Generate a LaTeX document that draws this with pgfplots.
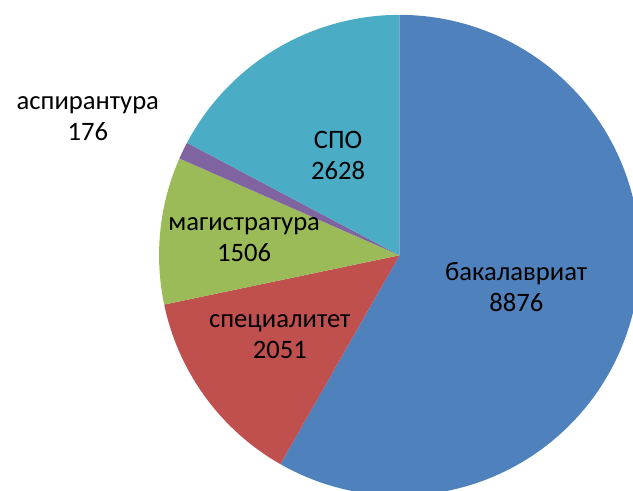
\documentclass[border=0pt]{standalone}
\usepackage{pgfplots}
\usepackage{pgfplotstable}
\usepackage{fontspec}
\setmainfont{Carlito}
\pgfplotsset{compat=1.18}
\definecolor{c0}{HTML}{4F81BD}
\definecolor{c1}{HTML}{C0504D}
\definecolor{c2}{HTML}{9BBB59}
\definecolor{c3}{HTML}{8064A2}
\definecolor{c4}{HTML}{4BACC6}
\pgfplotstableread{
value
8876
2051
1506
176
2628
}\datatable
\begin{document}
\def\cum{0}
\pgfplotsforeachungrouped \i in {0,...,4}{%
  \pgfplotstablegetelem{\i}{value}\of\datatable
  \expandafter\xdef\csname p\i\endcsname{\cum}%
  \pgfmathsetmacro\cum{\cum+\pgfplotsretval}%
  \expandafter\xdef\csname q\i\endcsname{\cum}%
}
\let\total\cum
\pgfplotsforeachungrouped \i in {0,...,4}{%
  \pgfmathsetmacro\tmp{90-360*(\csname p\i\endcsname/\total)}%
  \expandafter\xdef\csname s\i\endcsname{\tmp}%
  \pgfmathsetmacro\tmp{90-360*(\csname q\i\endcsname/\total)}%
  \expandafter\xdef\csname e\i\endcsname{\tmp}%
}
\begin{tikzpicture}
\begin{axis}[scale only axis, width=633bp, height=496bp,
  xmin=0, xmax=633, ymin=0, ymax=496, y dir=reverse,
  hide axis, clip=true]
\path (0,0) rectangle (633,496);
\pgfplotsinvokeforeach{0,...,4}{%
  \edef\lo{\csname e#1\endcsname}%
  \edef\hi{\csname s#1\endcsname}%
  \addplot[overlay, fill=c#1, draw=none, domain=\lo:\hi, samples=120]
    ({397+243*cos(x)},{258-243*sin(x)}) -- (397,258) -- cycle;
}
\tikzset{lbl/.style={align=center, font=\fontsize{27}{32}\selectfont, text=black, inner sep=0pt}}
\node[lbl] at (82,120) {аспирантура\\176};
\node[lbl] at (335,157) {СПО\\2628};
\node[lbl] at (240,242) {магистратура\\1506};
\node[lbl] at (276,340) {специалитет\\2051};
\node[lbl] at (515,290) {бакалавриат\\8876};
\end{axis}
\end{tikzpicture}
\end{document}
